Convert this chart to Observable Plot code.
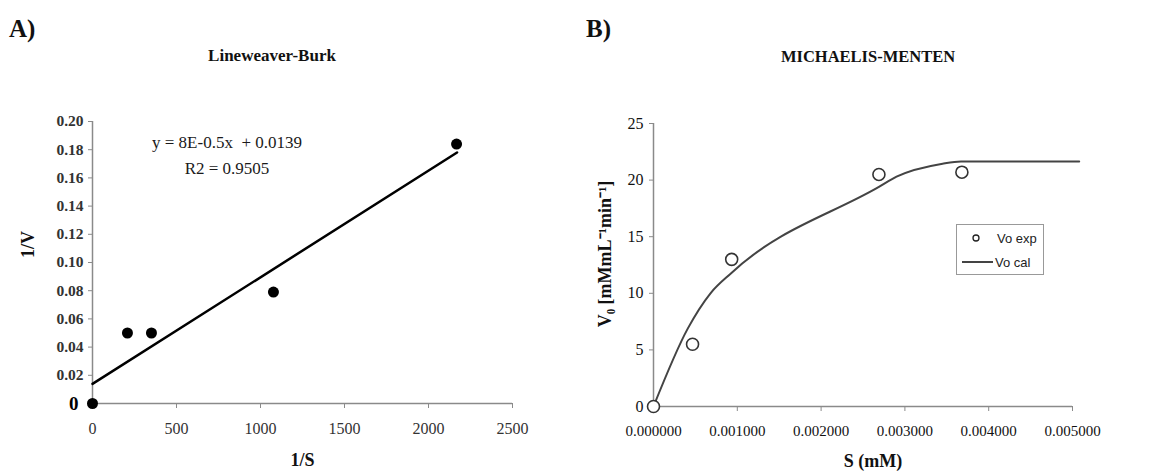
<!DOCTYPE html>
<html>
<head>
<meta charset="utf-8">
<script src="https://cdn.jsdelivr.net/npm/d3@7"></script>
<script src="https://cdn.jsdelivr.net/npm/@observablehq/plot@0.6"></script>
<style>
  html, body { margin: 0; padding: 0; background: #fff; }
  #wrap { position: relative; width: 1150px; height: 475px; overflow: hidden; font-family: "Liberation Serif", "Times New Roman", serif; color: #111; }
  .abs { position: absolute; white-space: nowrap; }
  .letter { font-weight: bold; font-size: 25px; }
  .title { font-weight: bold; transform: translateX(-50%); }
  .eq { font-size: 17px; transform: translateX(-50%); color: #1a1a1a; }
  #legend { position: absolute; left: 956px; top: 224px; width: 86px; height: 49px; border: 1.5px solid #999; font-family: "Liberation Sans", Arial, sans-serif; color: #222; }
</style>
</head>
<body>
<div id="wrap">
  <div id="chartA" class="abs" style="left:0;top:0"></div>
  <div id="chartB" class="abs" style="left:575px;top:0"></div>
  <div class="abs letter" style="left:9px;top:15px">A)</div>
  <div class="abs letter" style="left:586px;top:15px">B)</div>
  <div class="abs title" style="left:272px;top:46px;font-size:17px">Lineweaver-Burk</div>
  <div class="abs title" style="left:868px;top:47px;font-size:16.5px">MICHAELIS-MENTEN</div>
  <div class="abs eq" style="left:227px;top:133px">y = 8E-0.5x&nbsp; + 0.0139</div>
  <div class="abs eq" style="left:227px;top:159px">R2 = 0.9505</div>
  <div id="legend">
    <svg width="86" height="49" style="position:absolute;left:0;top:0">
      <circle cx="19" cy="13" r="3" fill="none" stroke="#222" stroke-width="1.3"></circle>
      <line x1="5" x2="36" y1="37" y2="37" stroke="#444" stroke-width="2"></line>
      <text x="40" y="18" font-size="13" fill="#222">Vo exp</text>
      <text x="38" y="42" font-size="13" fill="#222">Vo cal</text>
    </svg>
  </div>
</div>
<script>
// ---- Panel A: Lineweaver-Burk ----
const invS = [0, 208, 351, 1077, 2167];
const invV = [0, 0.050, 0.050, 0.079, 0.184];
const fitX = [0, 2170];
const fitY = [0.0139, 0.178];
const ticksAX = [0, 500, 1000, 1500, 2000, 2500];
const ticksAY = [0.02, 0.04, 0.06, 0.08, 0.10, 0.12, 0.14, 0.16, 0.18, 0.20];

// ---- Panel B: Michaelis-Menten ----
const S = [0, 0.000466, 0.000933, 0.00269, 0.00368];
const Vexp = [0, 5.5, 13.0, 20.5, 20.7];
const calS = [0, 0.00041, 0.00068, 0.00093, 0.00269, 0.00290, 0.00345, 0.00367, 0.00508];
const calV = [0, 6.9, 10.0, 11.8, 19.4, 20.3, 21.45, 21.65, 21.65];
const ticksBX = [0, 0.001, 0.002, 0.003, 0.004, 0.005];
const ticksBY = [0, 5, 10, 15, 20, 25];

const ptsA = invS.map((x, i) => ({x, y: invV[i]}));
const fitA = fitX.map((x, i) => ({x, y: fitY[i]}));
const ptsB = S.map((x, i) => ({x, y: Vexp[i]}));
const curB = calS.map((x, i) => ({x, y: calV[i]}));

const axisGray = "#8a8a8a";

const A = Plot.plot({
  width: 575, height: 475,
  marginLeft: 92, marginRight: 63, marginTop: 121, marginBottom: 72,
  style: {fontFamily: "Liberation Serif, Times New Roman, serif", background: "white"},
  x: {domain: [0, 2500]},
  y: {domain: [0, 0.2]},
  marks: [
    Plot.ruleX([0], {stroke: axisGray, strokeWidth: 1.5}),
    Plot.ruleY([0], {stroke: axisGray, strokeWidth: 1.5}),
    Plot.axisX({ticks: ticksAX, tickSize: 5, tickPadding: 14, stroke: axisGray, fill: "#333", fontSize: 16, tickFormat: d => String(d), label: null}),
    Plot.axisY({ticks: ticksAY, tickSize: 4, tickPadding: 5, stroke: axisGray, fill: "#333", fontSize: 15.5, fontWeight: "bold", tickFormat: d => d.toFixed(2), label: null}),
    Plot.axisY({ticks: [0], tickSize: 0, tickPadding: 14, fill: "#000", fontSize: 19, fontWeight: "bold", tickFormat: d => "0", label: null}),
    Plot.line(fitA, {x: "x", y: "y", stroke: "#000", strokeWidth: 2.5}),
    Plot.dot(ptsA, {x: "x", y: "y", r: 5.5, fill: "#000", stroke: "none"}),
    Plot.text(["1/S"], {frameAnchor: "bottom", dy: 62, textAnchor: "middle", fontSize: 18, fontWeight: "bold", fill: "#111"}),
    Plot.text(["1/V"], {frameAnchor: "left", dx: -64, dy: -18, textAnchor: "middle", rotate: -90, fontSize: 18, fontWeight: "bold", fill: "#111"})
  ]
});
document.getElementById("chartA").appendChild(A);

const B = Plot.plot({
  width: 575, height: 475,
  marginLeft: 78, marginRight: 78, marginTop: 123, marginBottom: 69,
  style: {fontFamily: "Liberation Serif, Times New Roman, serif", background: "white", overflow: "visible"},
  x: {domain: [0, 0.005]},
  y: {domain: [0, 25]},
  marks: [
    Plot.ruleX([0], {stroke: axisGray, strokeWidth: 1.5}),
    Plot.ruleY([0], {stroke: axisGray, strokeWidth: 1.5}),
    Plot.axisX({ticks: ticksBX, tickSize: 5, tickPadding: 14, stroke: axisGray, fill: "#111", fontSize: 15, tickFormat: d3.format(".6f"), label: null}),
    Plot.axisY({ticks: ticksBY, tickSize: 4, tickPadding: 6, stroke: axisGray, fill: "#111", fontSize: 16, tickFormat: d => String(d), label: null}),
    Plot.line(curB, {x: "x", y: "y", stroke: "#444", strokeWidth: 2, curve: "monotone-x"}),
    Plot.dot(ptsB, {x: "x", y: "y", r: 6, fill: "white", stroke: "#333", strokeWidth: 1.6}),
    Plot.text(["S (mM)"], {frameAnchor: "bottom", dx: 10, dy: 60, textAnchor: "middle", fontSize: 18, fontWeight: "bold", fill: "#111"}),
    Plot.text(["V₀ [mMmL⁻¹min⁻¹]"], {frameAnchor: "left", dx: -48, dy: -11, textAnchor: "middle", rotate: -90, fontSize: 18, fontWeight: "bold", fill: "#111"})
  ]
});
document.getElementById("chartB").appendChild(B);
</script>
</body>
</html>
